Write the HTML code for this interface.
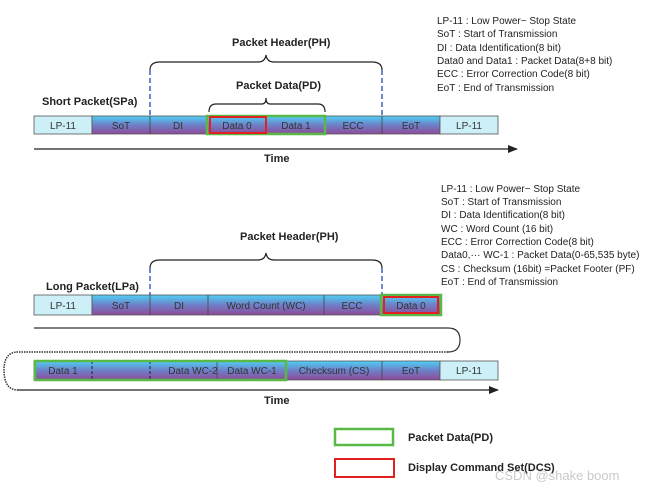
<!DOCTYPE html>
<html><head><meta charset="utf-8"><style>
html,body{margin:0;padding:0;background:#fff;}
svg{display:block;font-family:"Liberation Sans",Arial,sans-serif;}
.t{font-size:10px;fill:#222;}
.b{font-size:11px;font-weight:bold;fill:#222;}
.c{font-size:10px;fill:#333;text-anchor:middle;}
</style></head><body>
<svg width="656" height="489" viewBox="0 0 656 489" xmlns="http://www.w3.org/2000/svg">
<defs>
<linearGradient id="g" x1="0" y1="0" x2="0" y2="1">
<stop offset="0" stop-color="#4fd0f5"/><stop offset="0.5" stop-color="#6e80c8"/><stop offset="1" stop-color="#8e4a98"/>
</linearGradient>
<marker id="ar" markerWidth="10" markerHeight="8" refX="9" refY="4" orient="auto" markerUnits="userSpaceOnUse"><path d="M0,0 L10,4 L0,8z" fill="#222"/></marker>
</defs>

<!-- right legend text top -->
<g class="t">
<text x="437" y="24">LP-11 : Low Power−   Stop State</text>
<text x="437" y="37">SoT : Start of Transmission</text>
<text x="437" y="51">DI : Data Identification(8 bit)</text>
<text x="437" y="64">Data0 and Data1 : Packet Data(8+8 bit)</text>
<text x="437" y="77">ECC : Error Correction Code(8 bit)</text>
<text x="437" y="91">EoT : End of Transmission</text>
</g>
<g class="t">
<text x="441" y="192">LP-11 : Low Power−  Stop State</text>
<text x="441" y="205">SoT : Start of Transmission</text>
<text x="441" y="218">DI : Data Identification(8 bit)</text>
<text x="441" y="232">WC : Word Count (16 bit)</text>
<text x="441" y="245">ECC : Error Correction Code(8 bit)</text>
<text x="441" y="258">Data0,··· WC-1 : Packet Data(0-65,535 byte)</text>
<text x="441" y="272">CS : Checksum (16bit) =Packet Footer (PF)</text>
<text x="441" y="285">EoT : End of Transmission</text>
</g>

<!-- short packet -->
<text class="b" x="232" y="46">Packet Header(PH)</text>
<path d="M150,70 Q150,62 160,62 L258,62 Q265,62 266,55 Q267,62 274,62 L372,62 Q382,62 382,70" fill="none" stroke="#222" stroke-width="1.2"/>
<line x1="150" y1="70" x2="150" y2="116" stroke="#3a5fc0" stroke-width="1.5" stroke-dasharray="5,3"/>
<line x1="382" y1="70" x2="382" y2="116" stroke="#3a5fc0" stroke-width="1.5" stroke-dasharray="5,3"/>
<text class="b" x="236" y="89">Packet Data(PD)</text>
<path d="M209,112 Q209,104 216,104 L262,104 Q266,104 266,98 Q266,104 270,104 L318,104 Q325,104 325,112" fill="none" stroke="#222" stroke-width="1.2"/>
<text class="b" x="42" y="105">Short Packet(SPa)</text>

<rect x="34" y="116" width="58" height="18" fill="#cdeff7" stroke="#555" stroke-width="0.8"/>
<rect x="92" y="116" width="348" height="18" fill="url(#g)" stroke="#555" stroke-width="0.8"/>
<rect x="440" y="116" width="58" height="18" fill="#cdeff7" stroke="#555" stroke-width="0.8"/>
<g stroke="#444" stroke-width="0.8"><line x1="150" y1="116" x2="150" y2="134"/><line x1="207" y1="116" x2="207" y2="134"/><line x1="266" y1="116" x2="266" y2="134"/><line x1="325" y1="116" x2="325" y2="134"/><line x1="382" y1="116" x2="382" y2="134"/></g>
<rect x="207" y="116" width="118" height="18" fill="none" stroke="#5ab946" stroke-width="2.5"/>
<rect x="210" y="117" width="56" height="16" fill="none" stroke="#e32020" stroke-width="2"/>
<g class="c"><text x="63" y="129">LP-11</text><text x="121" y="129">SoT</text><text x="178" y="129">DI</text><text x="237" y="129">Data 0</text><text x="296" y="129">Data 1</text><text x="353" y="129">ECC</text><text x="411" y="129">EoT</text><text x="469" y="129">LP-11</text></g>
<line x1="34" y1="149" x2="517" y2="149" stroke="#222" stroke-width="1.2" marker-end="url(#ar)"/>
<text class="b" x="264" y="162">Time</text>

<!-- long packet -->
<text class="b" x="240" y="240">Packet Header(PH)</text>
<path d="M150,268 Q150,260 160,260 L258,260 Q265,260 266,253 Q267,260 274,260 L372,260 Q382,260 382,268" fill="none" stroke="#222" stroke-width="1.2"/>
<line x1="150" y1="268" x2="150" y2="295" stroke="#3a5fc0" stroke-width="1.5" stroke-dasharray="5,3"/>
<line x1="382" y1="268" x2="382" y2="295" stroke="#3a5fc0" stroke-width="1.5" stroke-dasharray="5,3"/>
<text class="b" x="46" y="290">Long Packet(LPa)</text>

<rect x="34" y="295" width="58" height="20" fill="#cdeff7" stroke="#555" stroke-width="0.8"/>
<rect x="92" y="295" width="348" height="20" fill="url(#g)" stroke="#555" stroke-width="0.8"/>
<g stroke="#444" stroke-width="0.8"><line x1="150" y1="295" x2="150" y2="315"/><line x1="208" y1="295" x2="208" y2="315"/><line x1="324" y1="295" x2="324" y2="315"/><line x1="381" y1="295" x2="381" y2="315"/></g>
<rect x="381" y="295" width="60" height="20" fill="none" stroke="#5ab946" stroke-width="2.5"/>
<rect x="384" y="297" width="54" height="16" fill="none" stroke="#e32020" stroke-width="2"/>
<g class="c"><text x="63" y="309">LP-11</text><text x="121" y="309">SoT</text><text x="179" y="309">DI</text><text x="266" y="309">Word Count (WC)</text><text x="352" y="309">ECC</text><text x="411" y="309">Data 0</text></g>

<path d="M34,328 L448,328 Q460,328 460,340 Q460,352 448,352" fill="none" stroke="#333" stroke-width="1.2"/>
<path d="M448,352 L18,352 Q4,352 4,370 Q4,390 18,390" fill="none" stroke="#333" stroke-width="1.5" stroke-dasharray="1.5,1"/>
<line x1="18" y1="390" x2="498" y2="390" stroke="#222" stroke-width="1.2" marker-end="url(#ar)"/>

<rect x="34" y="361" width="406" height="19" fill="url(#g)" stroke="#555" stroke-width="0.8"/>
<rect x="440" y="361" width="58" height="19" fill="#cdeff7" stroke="#555" stroke-width="0.8"/>
<g stroke="#222" stroke-width="1"><line x1="92" y1="361" x2="92" y2="380" stroke-dasharray="3,2"/><line x1="150" y1="361" x2="150" y2="380" stroke-dasharray="3,2"/></g>
<g stroke="#444" stroke-width="0.8"><line x1="217" y1="361" x2="217" y2="380"/><line x1="286" y1="361" x2="286" y2="380"/><line x1="382" y1="361" x2="382" y2="380"/></g>
<rect x="35" y="361" width="251" height="19" fill="none" stroke="#5ab946" stroke-width="2.5"/>
<g class="c"><text x="63" y="374">Data 1</text><text x="193" y="374">Data WC-2</text><text x="252" y="374">Data WC-1</text><text x="334" y="374">Checksum (CS)</text><text x="411" y="374">EoT</text><text x="469" y="374">LP-11</text></g>
<text class="b" x="264" y="404">Time</text>

<!-- legend -->
<rect x="335" y="429" width="58" height="16" fill="none" stroke="#5ab946" stroke-width="2.5"/>
<text class="b" x="408" y="441">Packet Data(PD)</text>
<rect x="335" y="459" width="59" height="18" fill="none" stroke="#e32020" stroke-width="2"/>
<text class="b" x="408" y="471">Display Command Set(DCS)</text>
<text x="495" y="480" font-size="13" fill="#bbb" fill-opacity="0.8">CSDN @shake boom</text>
</svg>
</body></html>
